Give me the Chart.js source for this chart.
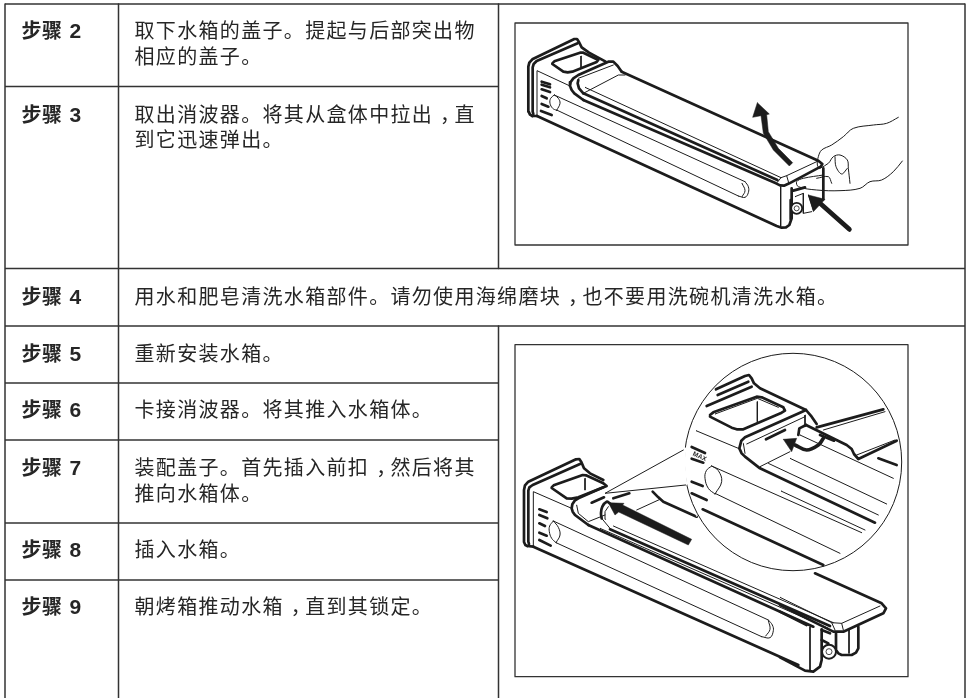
<!DOCTYPE html>
<html>
<head>
<meta charset="utf-8">
<title>水箱清洁步骤</title>
<script src="https://cdn.jsdelivr.net/npm/chart.js@4/dist/chart.umd.min.js"></script>
<style>
    html, body { margin: 0; padding: 0; background: #fff; }
    canvas { display: block; }
</style>
</head>
<body>
<canvas id="sheet" width="966" height="698"></canvas>
<script>
"use strict";

// table text
const stepLabels = ["步骤", "步骤", "步骤", "步骤", "步骤", "步骤", "步骤", "步骤"];
const stepNumbers = ["2", "3", "4", "5", "6", "7", "8", "9"];
const stepBaselines = [38, 121.5, 303.5, 360.5, 417, 475, 557, 614];
const stepTexts = [
    ["取下水箱的盖子。提起与后部突出物", "相应的盖子。"],
    ["取出消波器。将其从盒体中拉出，直", "到它迅速弹出。"],
    ["用水和肥皂清洗水箱部件。请勿使用海绵磨块，也不要用洗碗机清洗水箱。"],
    ["重新安装水箱。"],
    ["卡接消波器。将其推入水箱体。"],
    ["装配盖子。首先插入前扣，然后将其", "推向水箱体。"],
    ["插入水箱。"],
    ["朝烤箱推动水箱，直到其锁定。"]
];
const insetLabel = "MAX";

// table rules, in page pixels
const tableRules = [
    [[5, 4], [965, 4]],
    [[5, 86.5], [498.5, 86.5]],
    [[5, 268.5], [965, 268.5]],
    [[5, 326], [965, 326]],
    [[5, 383], [498.5, 383]],
    [[5, 440], [498.5, 440]],
    [[5, 523], [498.5, 523]],
    [[5, 580], [498.5, 580]],
    [[5, 4], [5, 698]],
    [[118.5, 4], [118.5, 698]],
    [[498.5, 4], [498.5, 268.5]],
    [[498.5, 326], [498.5, 698]],
    [[965, 4], [965, 698]]
];
const pictureBoxes = [
    [[515, 23], [908, 23], [908, 245], [515, 245], [515, 23]],
    [[515, 344.7], [908, 344.7], [908, 676.7], [515, 676.7], [515, 344.7]]
];

// upper picture, traced in crop coordinates (3x page, see frames below)
const upperLeftThick = [
    [[52, 258], [45, 254], [41, 245], [40, 110], [43, 98], [52, 88], [178, 27], [186, 27], [192, 36], [200, 52], [222, 68], [272, 95]],
    [[55, 252], [53, 245], [53, 112], [56, 102], [65, 93], [188, 40]],
    [[52, 258], [66, 258]],
    [[112, 100], [118, 94], [195, 68], [205, 68], [250, 90], [245, 96], [172, 125], [158, 127], [145, 125], [112, 102]],
    [[320, 125], [308, 108], [295, 95], [280, 95], [190, 135], [175, 145], [167, 156], [165, 168], [170, 180], [178, 190], [205, 210]],
    [[190, 150], [188, 160], [192, 175], [205, 190]],
    [[80, 155], [105, 163]],
    [[80, 164], [105, 172]],
    [[80, 178], [105, 186]],
    [[80, 198], [95, 205]],
    [[80, 222], [100, 230]],
    [[78, 243], [110, 255]]
];
const upperLeftThin = [
    [[66, 258], [66, 122], [165, 168]],
    [[198, 78], [198, 112]],
    [[190, 145], [295, 105]],
    [[205, 190], [310, 135], [330, 135]]
];
const upperLeftCurves = [
    [[118, 195], [107, 205], [105, 220], [113, 235], [125, 241]],
    [[118, 195], [130, 205], [135, 220], [125, 241]]
];
const upperThick = [
    [[111, 318], [830, 648], [845, 653], [858, 652], [868, 645], [875, 625], [875, 535]],
    [[250, 270], [828, 520], [840, 526], [852, 527], [868, 520], [962, 470], [967, 462], [955, 452], [365, 185]],
    [[250, 250], [832, 510]]
];
const upperThin = [
    [[255, 232], [843, 503], [860, 497], [950, 455]],
    [[843, 503], [832, 517]],
    [[860, 497], [866, 518]],
    [[163, 255], [735, 515]],
    [[170, 300], [715, 558]],
    [[842, 530], [842, 648]]
];
const upperCurves = [
    [[735, 515], [745, 530], [745, 548], [735, 562], [715, 558]],
    [[726, 520], [735, 542], [726, 560]]
];
const upperSolid = [
    [[772, 278], [758, 322], [783, 317], [790, 370], [820, 420], [868, 468], [878, 458], [835, 415], [805, 365], [800, 314], [808, 312], [772, 278]]
];
const handThin = [
    [[415, 52], [380, 70], [340, 75], [280, 85], [250, 110], [215, 135], [185, 150], [175, 170], [172, 195], [178, 205]],
    [[180, 205], [205, 190], [220, 170], [240, 165], [262, 180], [265, 205], [270, 250]],
    [[225, 170], [228, 200], [245, 222], [262, 205]],
    [[170, 235], [205, 230], [215, 250]],
    [[427, 183], [400, 215], [365, 240], [330, 245], [300, 265], [240, 272], [170, 270], [115, 260], [110, 245], [130, 235], [190, 225]]
];
const handBack = [
    [[105, 290], [130, 280], [130, 340], [155, 335]],
    [[145, 285], [160, 330]]
];
const handThick = [
    [[190, 205], [190, 298]],
    [[100, 272], [135, 262]],
    [[92, 300], [92, 358]]
];
const handShaft = [
    [[268, 388], [175, 305]]
];
const handSolid = [
    [[145, 285], [160, 335], [195, 298], [145, 285]]
];
const upperBoss = [{x: 110, y: 325}];

// lower picture, behind the magnifier
const lowerLeftThick = [
    [[52, 288], [46, 285], [42, 276], [42, 120], [45, 106], [55, 95], [198, 28], [208, 27], [214, 36], [222, 55], [240, 70], [280, 90]],
    [[57, 282], [55, 275], [55, 122], [58, 112], [68, 105], [210, 42]],
    [[52, 288], [70, 290]],
    [[125, 112], [131, 106], [218, 75], [228, 76], [280, 100], [290, 108], [205, 142], [185, 146], [170, 145], [125, 114]],
    [[280, 112], [205, 145], [194, 152], [187, 163], [185, 175], [188, 185], [195, 195], [235, 225]],
    [[245, 158], [282, 142]],
    [[88, 178], [110, 186]],
    [[88, 195], [112, 205]],
    [[88, 220], [105, 228]],
    [[88, 248], [110, 257]],
    [[88, 270], [122, 287]],
    [[310, 145], [358, 130]],
    [[428, 125], [445, 142], [460, 155], [560, 200]]
];
const lowerLeftThin = [
    [[70, 290], [70, 125], [185, 175]],
    [[225, 85], [225, 120]],
    [[200, 165], [205, 190], [235, 215], [285, 195]],
    [[380, 180], [450, 148]],
    [[275, 205], [300, 235]],
    [[287, 208], [285, 185], [295, 170]]
];
const lowerLeftCurves = [
    [[130, 213], [119, 228], [118, 245], [125, 265], [138, 278]],
    [[130, 213], [145, 232], [150, 255], [138, 278]],
    [[275, 205], [273, 190], [277, 170], [290, 155], [300, 160]]
];
const lowerThick = [
    [[100, 620], [895, 975]],
    [[265, 555], [940, 860]],
    [[330, 568], [990, 858]]
];
const lowerThin = [
    [[160, 543], [805, 840]],
    [[168, 608], [785, 890]],
    [[340, 558], [1000, 848]],
    [[300, 565], [985, 865]]
];
const lowerCurves = [
    [[805, 840], [817, 855], [820, 872], [810, 893], [785, 890]],
    [[805, 842], [810, 868], [797, 888]]
];
const lowerEndThick = [
    [[105, -20], [150, 0], [305, 70], [318, 85], [310, 100], [190, 155], [160, 155], [0, 75]],
    [[0, 95], [80, 135]],
    [[0, 232], [75, 272], [100, 275], [120, 260], [125, 240], [125, 148]],
    [[168, 160], [168, 210], [175, 220], [185, 225], [215, 225], [228, 218], [235, 205], [235, 140]],
    [[125, 180], [145, 190]],
    [[125, 150], [150, 160]]
];
const lowerEndThin = [
    [[0, 52], [155, 128], [185, 130], [300, 78]],
    [[155, 128], [165, 150]],
    [[185, 130], [190, 150]],
    [[90, 140], [90, 270]],
    [[207, 150], [207, 220]]
];
const lowerBoss = [{x: 147, y: 215}];
const lowerSolid = [
    [[295, 158], [315, 195], [326, 186], [535, 285], [545, 268], [338, 165], [342, 160], [295, 158]]
];

// magnifier
const lensWedge = [[520, 0], [285, 130], [527, 105], [560, 200], [560, 0], [520, 0]];
const lensRim = [[[520, 0], [285, 130], [527, 105]]];
const lensDisc = [{x: 339, y: 336}];
const lensGap = [[[14, 296], [11, 340], [17, 402]]];
const insetThick = [
    [[108, 118], [195, 78], [207, 75], [215, 85], [222, 100], [240, 115], [378, 180], [395, 200], [410, 222]],
    [[113, 135], [205, 95]],
    [[80, 168], [215, 110]],
    [[90, 195], [100, 187], [230, 140], [245, 142], [310, 172], [315, 182], [305, 188], [190, 238], [170, 238], [155, 233], [90, 200]],
    [[378, 180], [360, 188], [195, 262], [184, 272], [178, 295], [185, 310], [195, 320], [240, 355], [585, 518]],
    [[378, 225], [358, 235], [355, 255]],
    [[378, 225], [500, 285], [515, 297], [522, 312], [535, 327], [650, 272]],
    [[410, 232], [610, 178]],
    [[595, 325], [650, 345]],
    [[420, 255], [462, 272]],
    [[258, 268], [315, 240]],
    [[35, 291], [75, 309]],
    [[35, 326], [70, 338]],
    [[35, 395], [68, 408]],
    [[35, 430], [80, 450]],
    [[68, 478], [430, 645]]
];
const insetThin = [
    [[48, 242], [175, 295]],
    [[232, 155], [232, 215]],
    [[105, 192], [232, 145], [295, 172]],
    [[190, 280], [195, 310]],
    [[200, 282], [375, 200]],
    [[240, 350], [330, 305]],
    [[375, 195], [375, 230]],
    [[430, 240], [615, 185]],
    [[530, 315], [645, 270]],
    [[265, 340], [595, 495]],
    [[330, 325], [620, 462]],
    [[360, 255], [640, 385]],
    [[303, 423], [555, 540]],
    [[95, 348], [545, 548]],
    [[105, 430], [480, 610]]
];
const insetCurves = [
    [[95, 348], [79, 362], [75, 385], [85, 415], [105, 432]],
    [[95, 348], [115, 362], [125, 395], [105, 432]]
];
const insetArrowShaft = [
    [[345, 285], [380, 300], [415, 285], [430, 265]]
];
const insetSolid = [
    [[310, 268], [350, 265], [335, 305], [310, 268]]
];

// each frame is one zoomed crop: page = origin + value / scale
const frames = {
    page: [0, 0, 1],
    upper: [500, 10, 3],
    upperLeft: [515, 30, 3],
    hand: [760, 100, 3],
    lower: [500, 340, 3],
    lowerLeft: [510, 450, 3],
    lowerEnd: [780, 580, 3],
    inset: [680, 350, 3]
};

const INK = "#1c1c1c";
const RULE = "#333333";
const THICK = 2.7;
const THIN = 1;
const datasets = [];

function toPoints(path) {
    return path.map(p => ({x: p[0], y: p[1]}));
}

function addPaths(paths, frame, width, extra) {
    paths.forEach(path => {
        datasets.push(Object.assign({
            data: toPoints(path),
            xAxisID: `x_${frame}`,
            yAxisID: `y_${frame}`,
            showLine: true,
            fill: false,
            borderColor: INK,
            borderWidth: width,
            borderCapStyle: "round",
            borderJoinStyle: "round",
            pointRadius: 0,
            order: -datasets.length
        }, extra || {}));
    });
}

function addFilled(paths, frame, colour) {
    addPaths(paths, frame, 0.5, {fill: "shape", backgroundColor: colour, borderColor: colour});
}

function addRound(points, frame, radius, border, fillColour) {
    datasets.push({
        data: points,
        xAxisID: `x_${frame}`,
        yAxisID: `y_${frame}`,
        showLine: false,
        pointRadius: radius,
        pointBackgroundColor: fillColour,
        pointBorderColor: INK,
        pointBorderWidth: border,
        order: -datasets.length
    });
}

function buildScales() {
    const scales = {};
    Object.keys(frames).forEach(name => {
        const [ox, oy, k] = frames[name];
        scales[`x_${name}`] = {type: "linear", axis: "x", display: false, min: -ox * k, max: (966 - ox) * k};
        scales[`y_${name}`] = {type: "linear", axis: "y", display: false, reverse: true, min: -oy * k, max: (698 - oy) * k};
    });
    return scales;
}

const SMOOTH = {tension: 0.4};

addPaths(tableRules, "page", 1.5, {borderColor: RULE, borderCapStyle: "butt"});
addPaths(pictureBoxes, "page", 1.3, {borderColor: RULE});

addPaths(upperThick, "upper", THICK);
addPaths(upperThin, "upper", THIN);
addPaths(upperCurves, "upper", THIN, SMOOTH);
addPaths(upperLeftThick, "upperLeft", THICK);
addPaths(upperLeftThin, "upperLeft", THIN);
addPaths(upperLeftCurves, "upperLeft", THIN, SMOOTH);
addRound(upperBoss, "hand", 5.5, 1.8, "#ffffff");
addRound(upperBoss, "hand", 2.5, 0.8, "#ffffff");
addFilled(upperSolid, "upper", INK);
addPaths(handThin, "hand", THIN, {tension: 0.35});
addPaths(handBack, "hand", THIN);
addPaths(handThick, "hand", THICK);
addPaths(handShaft, "hand", 4.8);
addFilled(handSolid, "hand", INK);

addPaths(lowerThick, "lower", THICK);
addPaths(lowerThin, "lower", THIN);
addPaths(lowerCurves, "lower", THIN, SMOOTH);
addPaths(lowerLeftThick, "lowerLeft", THICK);
addPaths(lowerLeftThin, "lowerLeft", THIN);
addPaths([lowerLeftCurves[2]], "lowerLeft", THICK, SMOOTH);
addPaths(lowerLeftCurves.slice(0, 2), "lowerLeft", THIN, SMOOTH);
addPaths(lowerEndThick, "lowerEnd", THICK);
addPaths(lowerEndThin, "lowerEnd", THIN);
addRound(lowerBoss, "lowerEnd", 7, 2, "#ffffff");
addRound(lowerBoss, "lowerEnd", 3, 0.8, "#ffffff");

addFilled([lensWedge], "lowerLeft", "#ffffff");
addRound(lensDisc, "inset", 108.7, 1, "#ffffff");
addPaths(lensGap, "inset", 3, {borderColor: "#ffffff"});
addPaths(lensRim, "lowerLeft", THIN);
addFilled(lowerSolid, "lowerLeft", INK);

addPaths(insetThick, "inset", THICK);
addPaths(insetThin, "inset", THIN);
addPaths(insetCurves, "inset", THIN, SMOOTH);
addPaths(insetArrowShaft, "inset", 3.6, SMOOTH);
addFilled(insetSolid, "inset", INK);

const tableText = {
    id: "tableText",
    afterDatasetsDraw(chart) {
        const ctx = chart.ctx;
        const px = chart.scales.x_page;
        const py = chart.scales.y_page;
        const pitch = 21.33;
        ctx.save();
        ctx.fillStyle = "#262626";
        ctx.textBaseline = "alphabetic";
        stepLabels.forEach((label, i) => {
            const base = py.getPixelForValue(stepBaselines[i]);
            ctx.font = 'bold 20px "Noto Sans CJK SC"';
            ctx.fillText(label[0], px.getPixelForValue(21.5), base);
            ctx.fillText(label[1], px.getPixelForValue(42), base);
            ctx.font = 'bold 21px "Liberation Sans"';
            ctx.fillText(stepNumbers[i], px.getPixelForValue(69.5), base);

            ctx.font = '20px "Noto Sans CJK SC"';
            stepTexts[i].forEach((line, n) => {
                const lineBase = py.getPixelForValue(stepBaselines[i] + n * 25.5);
                Array.from(line).forEach((ch, k) => {
                    // the source centres its comma in the cell
                    const nudge = ch === "，" ? 7 : 0;
                    ctx.fillText(ch, px.getPixelForValue(134.5 + k * pitch + nudge), lineBase);
                });
            });
        });

        ctx.translate(chart.scales.x_inset.getPixelForValue(37), chart.scales.y_inset.getPixelForValue(316));
        ctx.rotate(0.42);
        ctx.font = 'bold 6.5px "Liberation Sans"';
        ctx.fillText(insetLabel, 0, 0);
        ctx.restore();
    }
};

new Chart(document.getElementById("sheet"), {
    type: "scatter",
    data: {datasets: datasets},
    options: {
        responsive: false,
        animation: false,
        events: [],
        layout: {padding: 0, autoPadding: false},
        scales: buildScales(),
        plugins: {legend: {display: false}, tooltip: {enabled: false}, title: {display: false}}
    },
    plugins: [tableText]
});
</script>
</body>
</html>
